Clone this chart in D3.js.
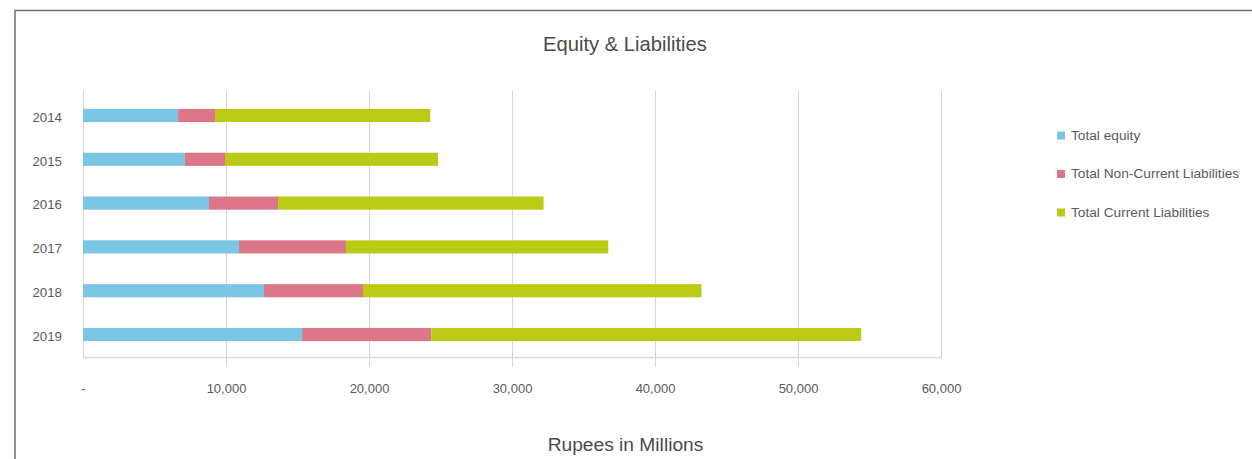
<!DOCTYPE html>
<html>
<head>
<meta charset="utf-8">
<script src="https://cdn.jsdelivr.net/npm/d3@7"></script>
<style>
  html, body { margin: 0; padding: 0; background: #fff; }
  svg { display: block; font-family: "Liberation Sans", Arial, Helvetica, sans-serif; }
</style>
</head>
<body>
<svg id="chart" width="1252" height="459"></svg>
<script>
// Balance sheet composition, Rupees in Millions
const years = ["2014", "2015", "2016", "2017", "2018", "2019"];
const totalEquity = [6650, 7130, 8810, 10910, 12660, 15320];
const nonCurrentLiabilities = [2580, 2800, 4830, 7480, 6920, 9030];
const currentLiabilities = [15050, 14900, 18570, 18340, 23670, 30070];
const seriesNames = ["Total equity", "Total Non-Current Liabilities", "Total Current Liabilities"];
const seriesColors = ["#7bc5e5", "#db7789", "#bbcb15"];
const xTicks = [0, 10000, 20000, 30000, 40000, 50000, 60000];
const xTickLabels = ["-", "10,000", "20,000", "30,000", "40,000", "50,000", "60,000"];

const rows = years.map((y, i) => ({
  year: y,
  "Total equity": totalEquity[i],
  "Total Non-Current Liabilities": nonCurrentLiabilities[i],
  "Total Current Liabilities": currentLiabilities[i]
}));

const svg = d3.select("#chart");

// outer frame
svg.append("rect")
  .attr("x", 15).attr("y", 10.5)
  .attr("width", 1300).attr("height", 500)
  .attr("fill", "none").attr("stroke", "#6f6f6f").attr("stroke-width", 1.5);

const plot = { left: 83, right: 941, top: 91, bottom: 357 };

const x = d3.scaleLinear().domain([0, 60000]).range([plot.left, plot.right]);
const y = d3.scaleBand().domain(years).range([93.6, 356.4]).padding(0);
const barH = y.bandwidth() * 0.3;

// vertical gridlines, extending a little below the baseline
svg.append("g").selectAll("line")
  .data(xTicks)
  .join("line")
  .attr("x1", d => x(d) + 0.5).attr("x2", d => x(d) + 0.5)
  .attr("y1", plot.top)
  .attr("y2", (d, i) => (i === 0 || i === xTicks.length - 1) ? plot.bottom : plot.bottom + 10)
  .attr("stroke", "#d6d6d6").attr("stroke-width", 1);

// baseline
svg.append("line")
  .attr("x1", plot.left).attr("x2", plot.right + 1)
  .attr("y1", plot.bottom + 0.5).attr("y2", plot.bottom + 0.5)
  .attr("stroke", "#dcdcdc").attr("stroke-width", 1.5);

// stacked bars
const stack = d3.stack().keys(seriesNames)(rows);
svg.append("g").selectAll("g")
  .data(stack)
  .join("g")
  .attr("fill", (d, i) => seriesColors[i])
  .selectAll("rect")
  .data(d => d)
  .join("rect")
  .attr("x", d => x(d[0]))
  .attr("width", d => x(d[1]) - x(d[0]))
  .attr("y", d => y(d.data.year) + (y.bandwidth() - barH) / 2)
  .attr("height", barH);

// x tick labels
const xAxis = d3.axisBottom(x)
  .tickValues(xTicks)
  .tickFormat((d, i) => xTickLabels[i])
  .tickSize(0)
  .tickPadding(0);
const gx = svg.append("g")
  .attr("transform", `translate(0, ${plot.bottom + 27})`)
  .call(xAxis);
gx.select(".domain").remove();
gx.selectAll("text")
  .attr("font-size", 13).attr("fill", "#5a5a5a")
  .attr("font-family", "'Liberation Sans', Arial, sans-serif");

// y category labels
const yAxis = d3.axisLeft(y).tickSize(0).tickPadding(0);
const gy = svg.append("g")
  .attr("transform", `translate(62, 2)`)
  .call(yAxis);
gy.select(".domain").remove();
gy.selectAll("text")
  .attr("font-size", 13.3).attr("fill", "#5a5a5a")
  .attr("font-family", "'Liberation Sans', Arial, sans-serif");

// title
svg.append("text")
  .attr("x", 625).attr("y", 51)
  .attr("text-anchor", "middle")
  .attr("font-size", 20.2).attr("fill", "#4a4a4a")
  .text("Equity & Liabilities");

// x axis title
svg.append("text")
  .attr("x", 625.5).attr("y", 451)
  .attr("text-anchor", "middle")
  .attr("font-size", 19.2).attr("fill", "#4a4a4a")
  .text("Rupees in Millions");

// legend
const legend = svg.append("g").attr("transform", "translate(1057, 135)");
const li = legend.selectAll("g")
  .data(seriesNames)
  .join("g")
  .attr("transform", (d, i) => `translate(0, ${i * 38.5})`);
li.append("rect")
  .attr("x", 0).attr("y", -3.5)
  .attr("width", 8).attr("height", 8)
  .attr("fill", (d, i) => seriesColors[i]);
li.append("text")
  .attr("x", 14).attr("y", 4.8)
  .attr("font-size", 13.7).attr("fill", "#5a5a5a")
  .text(d => d);
</script>
</body>
</html>
